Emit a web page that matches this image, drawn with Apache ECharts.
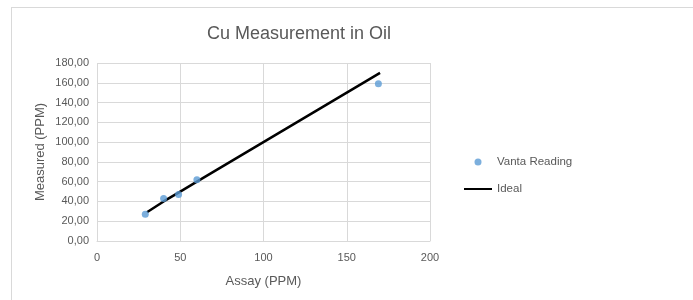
<!DOCTYPE html>
<html>
<head>
<meta charset="utf-8">
<script src="https://cdn.jsdelivr.net/npm/echarts@6/dist/echarts.min.js"></script>
<style>
  html, body { margin: 0; padding: 0; background: #fff; }
  #chart { width: 693px; height: 300px; }
</style>
</head>
<body>
<div id="chart"></div>
<script>
// values
const assay = [29, 40, 49, 60, 169]
const measured = [27, 43, 47, 62, 159]
const idealX = [30, 40, 50, 60, 170]
const idealY = [29, 40, 50, 60, 170]

const font = 'Liberation Sans'
const grey = '#595959'

let chart = echarts.init(document.getElementById('chart'))
let option = {
  animation: false,
  textStyle: { fontFamily: font },
  title: {
    text: 'Cu Measurement in Oil',
    left: 207,
    top: 25,
    padding: 0,
    textStyle: { fontSize: 18, fontWeight: 'normal', color: grey, fontFamily: font }
  },
  graphic: [
    { type: 'line', shape: { x1: 11, y1: 7.5, x2: 693, y2: 7.5 }, style: { stroke: '#d9d9d9', lineWidth: 1 } },
    { type: 'line', shape: { x1: 11.5, y1: 7, x2: 11.5, y2: 300 }, style: { stroke: '#d9d9d9', lineWidth: 1 } }
  ],
  grid: { left: 97, right: 263, top: 63, bottom: 59 },
  legend: {
    orient: 'vertical',
    left: 463,
    top: 156,
    padding: 0,
    itemWidth: 28,
    itemHeight: 7,
    itemGap: 15,
    textStyle: { color: grey, fontSize: 11.5, fontFamily: font },
    data: ['Vanta Reading', { name: 'Ideal', itemStyle: { opacity: 0 } }]
  },
  xAxis: {
    type: 'value',
    min: 0, max: 200, interval: 50,
    name: 'Assay (PPM)',
    nameLocation: 'middle',
    nameGap: 34,
    nameTextStyle: { color: grey, fontSize: 13 },
    axisLine: { show: true, lineStyle: { color: '#d9d9d9' } },
    axisTick: { show: false },
    axisLabel: { color: grey, fontSize: 11, margin: 11 },
    splitLine: { lineStyle: { color: '#d9d9d9' } }
  },
  yAxis: {
    type: 'value',
    min: 0, max: 180, interval: 20,
    name: 'Measured (PPM)',
    nameLocation: 'middle',
    nameGap: 50,
    nameTextStyle: { color: grey, fontSize: 13 },
    axisLine: { show: false },
    axisTick: { show: false },
    axisLabel: { color: grey, fontSize: 11, margin: 8, formatter: v => v.toFixed(2).replace('.', ',') },
    splitLine: { lineStyle: { color: '#d9d9d9' } }
  },
  series: [
    {
      name: 'Vanta Reading',
      type: 'scatter',
      symbolSize: 7,
      itemStyle: { color: '#5b9bd5' },
      data: assay.map((x, i) => [x, measured[i]]),
      z: 3
    },
    {
      name: 'Ideal',
      type: 'line',
      symbol: 'none',
      lineStyle: { color: '#000', width: 2.5 },
      itemStyle: { color: '#000' },
      data: idealX.map((x, i) => [x, idealY[i]]),
      z: 2
    }
  ]
}
chart.setOption(option)
</script>
</body>
</html>
